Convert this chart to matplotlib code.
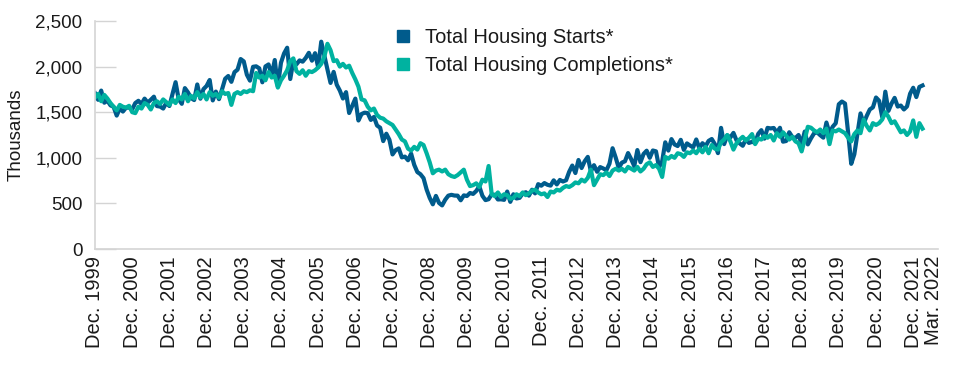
# Housing starts vs completions, monthly, Dec 1999 - Mar 2022
import matplotlib
matplotlib.use("Agg")
import matplotlib.pyplot as plt
from matplotlib.lines import Line2D

plt.rcParams['font.family'] = ['Liberation Sans', 'DejaVu Sans']

# thousands of units, seasonally adjusted annual rate
starts = [1708,
    1636, 1737, 1604, 1626, 1575, 1559, 1463, 1541, 1507, 1549, 1551, 1532,
    1600, 1625, 1590, 1649, 1605, 1636, 1670, 1567, 1562, 1540, 1602, 1568,
    1698, 1829, 1642, 1592, 1764, 1717, 1655, 1633, 1804, 1648, 1753, 1788,
    1853, 1629, 1726, 1643, 1751, 1867, 1897, 1833, 1939, 1967, 2083, 2057,
    1911, 1846, 1998, 2003, 1981, 1828, 2002, 2024, 1905, 2072, 1782, 2042,
    2144, 2207, 1864, 2061, 2025, 2068, 2054, 2095, 2151, 2065, 2147, 1994,
    2273, 2119, 1969, 1821, 1942, 1802, 1737, 1650, 1720, 1491, 1570, 1649,
    1409, 1480, 1495, 1490, 1415, 1448, 1354, 1330, 1183, 1264, 1197, 1037,
    1084, 1103, 1005, 1013, 973, 1046, 923, 844, 820, 777, 652, 560,
    490, 582, 505, 478, 540, 585, 594, 586, 585, 534, 588, 581,
    614, 604, 636, 687, 583, 536, 546, 599, 594, 543, 545, 539,
    630, 517, 600, 554, 561, 608, 623, 585, 650, 610, 711, 694,
    723, 704, 695, 753, 708, 757, 740, 754, 847, 915, 833, 976,
    888, 962, 1010, 851, 919, 847, 898, 883, 863, 936, 1105, 1003,
    888, 947, 962, 1052, 985, 909, 1085, 952, 1042, 1078, 1000, 1080,
    1071, 897, 962, 1170, 1079, 1205, 1146, 1129, 1197, 1087, 1158, 1134,
    1114, 1201, 1105, 1160, 1128, 1186, 1206, 1150, 1051, 1328, 1150, 1246,
    1223, 1273, 1190, 1159, 1132, 1203, 1163, 1175, 1165, 1263, 1303, 1210,
    1328, 1322, 1327, 1276, 1329, 1177, 1184, 1280, 1228, 1217, 1250, 1150,
    1288, 1147, 1212, 1268, 1279, 1248, 1221, 1387, 1267, 1340, 1379, 1587,
    1617, 1595, 1276, 934, 1038, 1264, 1487, 1376, 1459, 1530, 1553, 1661,
    1625, 1447, 1725, 1514, 1594, 1657, 1562, 1573, 1530, 1563, 1703, 1768,
    1666, 1777, 1793]

completions = [1660,
    1700, 1620, 1690, 1650, 1600, 1560, 1520, 1580, 1560, 1550, 1570, 1500,
    1490, 1560, 1540, 1600, 1580, 1530, 1600, 1620, 1590, 1640, 1610, 1580,
    1640, 1600, 1670, 1640, 1700, 1620, 1680, 1650, 1720, 1660, 1700, 1640,
    1720, 1680, 1700, 1660, 1730, 1700, 1710, 1580, 1700, 1720, 1700, 1730,
    1720, 1740, 1730, 1930, 1880, 1900, 1850, 1940, 1880, 1900, 1770, 1850,
    1900, 1960, 2060, 2090, 1950, 1920, 1960, 1900, 1950, 1940, 1960, 1990,
    2030, 2110, 2250, 2180, 2060, 2070, 2000, 2030, 1990, 2010, 1930, 1860,
    1780, 1640, 1630, 1560, 1520, 1540, 1470, 1440, 1430, 1400, 1380, 1360,
    1310, 1260, 1200, 1180, 1100, 1080, 1120, 1090, 1160, 1140, 1050, 950,
    830, 860, 870, 850, 870, 820, 800, 790, 810, 840, 870, 760,
    690, 700, 720, 680, 760, 740, 910, 600, 580, 620, 570, 600,
    590, 550, 560, 600, 580, 620, 590, 610, 640, 650, 620, 600,
    610, 570, 630, 620, 650, 640, 670, 690, 680, 700, 730, 720,
    760, 740, 780, 870, 700, 760, 820, 810, 840, 800, 860, 880,
    860, 880, 850, 900, 880, 860, 900, 850, 880, 930, 950, 900,
    920, 880, 790, 1010, 990, 1020, 1000, 1050, 1040, 1010, 1060, 1050,
    1080, 1050, 1100, 1060, 1120, 1050, 1140, 1100, 1090, 1170, 1200, 1250,
    1180, 1090, 1160, 1200, 1230, 1190, 1220, 1260, 1150, 1210, 1200, 1240,
    1220, 1250, 1190, 1270, 1230, 1280, 1240, 1200, 1230, 1180, 1160, 1070,
    1200, 1340, 1330, 1300, 1280, 1310, 1270, 1320, 1150, 1300, 1290, 1310,
    1290, 1270, 1220, 1180, 1260, 1300, 1270, 1420, 1350, 1300, 1380, 1360,
    1380, 1420, 1500, 1450, 1380, 1400, 1340, 1280, 1300, 1250, 1290, 1410,
    1230, 1380, 1320]

tick_labels = ["Dec. %d" % y for y in range(1999, 2022)]
tick_pos = list(range(0, 265, 12))
last_label = "Mar. 2022"

blue = '#005b8c'
teal = '#00b2a0'
grey = '#d4d4d4'
ink = '#1a1a1a'

fig = plt.figure(figsize=(9.6, 3.7), dpi=100)
ax = fig.add_axes([95 / 960, 1 - 249 / 370, (938 - 95) / 960, 228 / 370])

x = list(range(len(starts)))
ax.plot(x, starts, color=blue, lw=3, solid_joinstyle='round')
ax.plot(x, completions, color=teal, lw=3, solid_joinstyle='round')

ax.set_xlim(0, 272)
ax.set_ylim(0, 2500)
ax.set_yticks(range(0, 2501, 500))
ax.set_yticklabels(["{:,}".format(v) for v in range(0, 2501, 500)])
ax.set_xticks(tick_pos)
ax.set_xticklabels(tick_labels, rotation=90, va='top', ha='center')
# last label sits just right of its neighbour, at the final month
ax.annotate(last_label, xy=(len(starts) - 1, 0), xycoords=('data', 'axes fraction'),
            xytext=(11, -7), textcoords='offset pixels', rotation=90,
            ha='center', va='top', fontsize=14.5, color=ink)

ax.tick_params(axis='y', direction='in', length=15, width=1, color=grey, pad=9, labelsize=13.5, labelcolor=ink)
ax.tick_params(axis='x', length=0, pad=5, labelsize=14.5, labelcolor=ink)
for s in ['top', 'right']:
    ax.spines[s].set_visible(False)
ax.spines['left'].set_color(grey)
ax.spines['bottom'].set_color(grey)
ax.spines['left'].set_linewidth(1.2)
ax.spines['bottom'].set_linewidth(1.2)

ax.set_ylabel("Thousands", fontsize=13.5, color=ink, labelpad=8)

handles = [Line2D([], [], ls='none', marker='s', ms=8, color=blue),
           Line2D([], [], ls='none', marker='s', ms=8, color=teal)]
fig.legend(handles, ["Total Housing Starts*", "Total Housing Completions*"],
           loc='upper left', bbox_to_anchor=(385 / 960, 1 - 18 / 370), frameon=False,
           fontsize=14.5, handlelength=0.8, handletextpad=0.7, labelspacing=0.45,
           labelcolor=ink, borderpad=0)

fig.savefig("out.png", dpi=100)
